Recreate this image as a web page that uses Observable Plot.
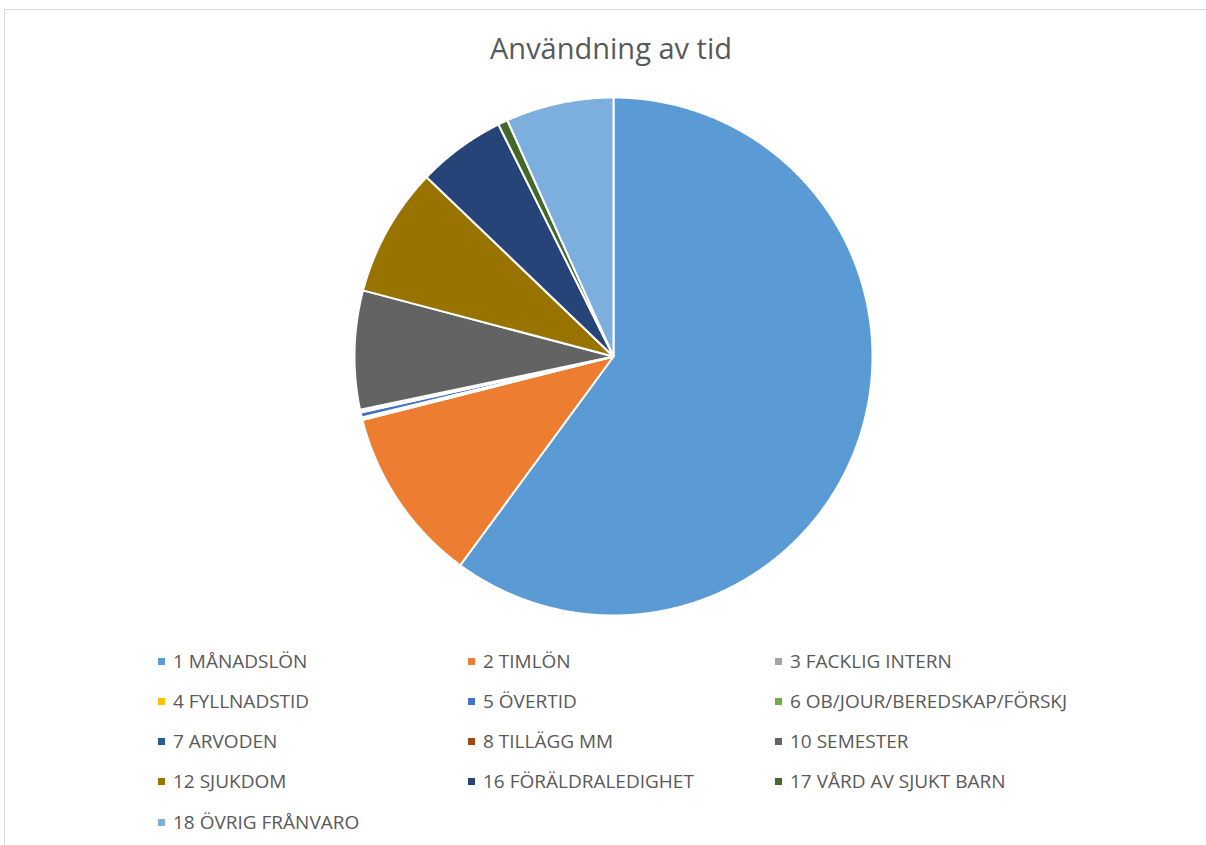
<!DOCTYPE html>
<html>
<head>
<meta charset="utf-8">
<script src="https://cdn.jsdelivr.net/npm/d3@7"></script>
<script src="https://cdn.jsdelivr.net/npm/@observablehq/plot@0.6"></script>
<style>
  html, body { margin: 0; padding: 0; background: #fff; }
  #frame { position: absolute; left: 4px; top: 9px; width: 1220px; height: 860px; border: 1px solid #d9d9d9; box-sizing: border-box; }
  #title { position: absolute; left: 0; top: 28px; width: 1222px; text-align: center; font-family: "Open Sans", sans-serif; font-size: 29px; color: #595959; line-height: 40px; }
  #chart { position: absolute; left: 0; top: 76px; }
  #legend { position: absolute; left: 0; top: 0; font-family: "Open Sans", sans-serif; font-size: 19px; color: #595959; }
  .item { position: absolute; white-space: nowrap; display: flex; align-items: center; }
  .sw { width: 7px; height: 7px; margin-right: 8px; }
</style>
</head>
<body>
<div id="frame"></div>
<div id="title">Användning av tid</div>
<div id="chart"></div>
<div id="legend"></div>
<script>
const categories = [
  "1 MÅNADSLÖN", "2 TIMLÖN", "3 FACKLIG INTERN", "4 FYLLNADSTID", "5 ÖVERTID",
  "6 OB/JOUR/BEREDSKAP/FÖRSKJ", "7 ARVODEN", "8 TILLÄGG MM", "10 SEMESTER",
  "12 SJUKDOM", "16 FÖRÄLDRALEDIGHET", "17 VÅRD AV SJUKT BARN", "18 ÖVRIG FRÅNVARO"
];
const values = [60.05, 10.97, 0.12, 0.05, 0.3, 0.08, 0.05, 0.05, 7.4, 8.06, 5.5, 0.6, 6.72];
const colors = [
  "#5B9BD5", "#ED7D31", "#A5A5A5", "#FFC000", "#4472C4",
  "#70AD47", "#255E91", "#9E480E", "#636363",
  "#997300", "#264478", "#43682B", "#7CAFDD"
];

// Build slice outlines from the data with d3.pie
const arcs = d3.pie().sort(null).value(d => d.value)(
  categories.map((c, i) => ({category: c, value: values[i]}))
);
const pts = [];
arcs.forEach((a, k) => {
  const c = a.data.category;
  pts.push({category: c, order: k, x: 0, y: 0});
  const n = Math.max(2, Math.ceil((a.endAngle - a.startAngle) / 0.005));
  for (let j = 0; j <= n; j++) {
    const t = a.startAngle + (a.endAngle - a.startAngle) * j / n;
    pts.push({category: c, order: k, x: Math.sin(t), y: Math.cos(t)});
  }
  pts.push({category: c, order: k, x: 0, y: 0});
});

const W = 1206, H = 560, R = 259, CX = 613, CY = 280;
const plot = Plot.plot({
  width: W,
  height: H,
  marginLeft: CX - R,
  marginRight: W - CX - R,
  marginTop: CY - R,
  marginBottom: H - CY - R,
  x: {domain: [-1, 1], axis: null},
  y: {domain: [-1, 1], axis: null},
  color: {domain: categories, range: colors},
  marks: [
    Plot.line(pts, {x: "x", y: "y", z: "category", fill: "category", stroke: "white", strokeWidth: 2, strokeLinejoin: "round", curve: "linear"})
  ]
});
document.getElementById("chart").appendChild(plot);

// Legend
const colX = [158, 468, 775];
const rowY = [661, 701, 741, 781, 822];
const leg = document.getElementById("legend");
categories.forEach((c, i) => {
  const el = document.createElement("div");
  el.className = "item";
  el.style.left = colX[i % 3] + "px";
  el.style.top = (rowY[Math.floor(i / 3)] - 13) + "px";
  el.style.height = "26px";
  el.innerHTML = `<span class="sw" style="background:${colors[i]}"></span><span>${c}</span>`;
  leg.appendChild(el);
});
</script>
</body>
</html>
